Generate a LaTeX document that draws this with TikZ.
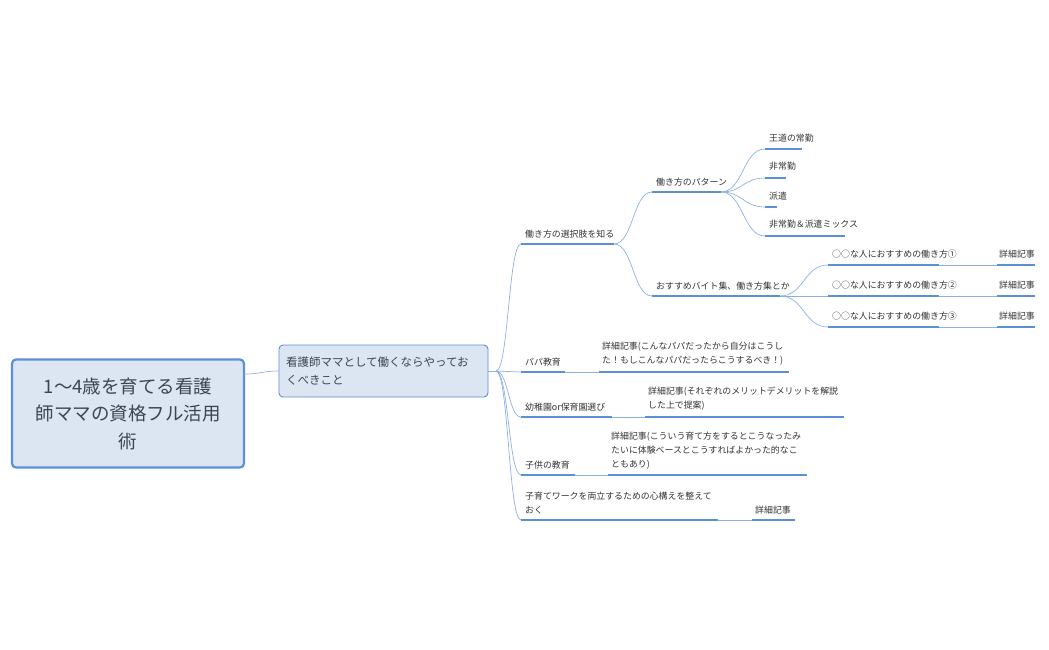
\documentclass[tikz,border=0pt]{standalone}
\usepackage{fontspec}
\setmainfont{Noto Sans CJK JP}
\usetikzlibrary{calc}
\definecolor{lineblue}{HTML}{5B8FD6}
\definecolor{conblue}{HTML}{8DB1E6}
\definecolor{boxfill}{HTML}{DCE6F2}
\definecolor{txt}{HTML}{333333}
\tikzset{
 ul/.style={draw=lineblue,line width=1.6pt},
 con/.style={draw=conblue,line width=0.7pt},
 lab/.style={anchor=south west,inner sep=0pt,text=txt,font=\fontsize{8.9}{14}\selectfont,align=left},
}
\begin{document}
\begin{tikzpicture}[x=1pt,y=-1pt]
\useasboundingbox (0,0) rectangle (1049,650);
% root
\node[draw=lineblue,line width=2.2pt,fill=boxfill,rounded corners=4pt,minimum width=232,minimum height=108,align=center,text=txt!80!lineblue,font=\fontsize{18.5}{27.5}\selectfont] (root) at (128,413.5) {1〜4歳を育てる看護\\師ママの資格フル活用\\術};
\node[draw=lineblue,line width=0.9pt,fill=boxfill,rounded corners=4pt,minimum width=209,minimum height=52,text width=195,align=left,text=txt!80!lineblue,font=\fontsize{11.5}{18}\selectfont] (c) at (383.5,371) {看護師ママとして働くならやってお\\くべきこと};
\coordinate (croot) at (244,374);
\draw[con] (croot) .. controls (262,374) and (262,371) .. (c.west);
\coordinate (hub) at (496,371);
\draw[con] (c.east) -- (hub);
% level 1 lines
\foreach \n/\y/\xe in {a/244/614, b/372/565, d/417/612, e/475/575, f/520/718}{
  \coordinate (\n s) at (521,\y); \coordinate (\n e) at (\xe,\y);
  \draw[ul] (\n s) -- (\n e);
  \draw[con] (hub) .. controls (508.5,371) and (508.5,\y) .. (\n s);
}
\node[lab] (ta) at (525,238) {働き方の選択肢を知る};
\node[lab] (tb) at (525,366) {パパ教育};
\node[lab] (td) at (525,411) {幼稚園or保育園選び};
\node[lab] (te) at (525,469) {子供の教育};
\node[lab] (tf) at (525,514) {子育てワークを両立するための心構えを整えて\\おく};
% level 2 under a
\coordinate (a1s) at (652,192); \coordinate (a1e) at (721,192);
\coordinate (a2s) at (652,296); \coordinate (a2e) at (780,296);
\draw[ul] (a1s)--(a1e); \draw[ul] (a2s)--(a2e);
\draw[con] (ae) .. controls (633,244) and (633,192) .. (a1s);
\draw[con] (ae) .. controls (633,244) and (633,296) .. (a2s);
\node[lab] (ta1) at (656,186) {働き方のパターン};
\node[lab] (ta2) at (656,290) {おすすめバイト集、働き方集とか};
% patterns
\foreach \n/\y/\xe/\t in {p1/149/802/王道の常勤, p2/178/786/非常勤, p3/207/777/派遣, p4/236/845/非常勤＆派遣ミックス}{
  \coordinate (\n s) at (765,\y); \coordinate (\n e) at (\xe,\y);
  \draw[ul] (\n s)--(\n e);
  \draw[con] (a1e) .. controls (743,192) and (743,\y) .. (\n s);
  \node[lab] (t\n) at (769,{\y-7}) {\t};
}
% recommendations
\foreach \n/\y/\t in {r1/265/○○な人におすすめの働き方①, r2/296/○○な人におすすめの働き方②, r3/327/○○な人におすすめの働き方③}{
  \coordinate (\n s) at (828,\y); \coordinate (\n e) at (939,\y);
  \coordinate (\n ds) at (997,\y); \coordinate (\n de) at (1035,\y);
  \draw[ul] (\n s)--(\n e); \draw[ul] (\n ds)--(\n de);
  \draw[con] (\n e)--(\n ds);
  \draw[con] (a2e) .. controls (804,296) and (804,\y) .. (\n s);
  \node[lab] (t\n) at (832,{\y-7}) {\t};
  \node[lab] (t\n d) at (999,{\y-7}) {詳細記事};
}
% details
\coordinate (bds) at (599,372); \coordinate (bde) at (789,372);
\draw[con] (be)--(bds); \draw[ul] (bds)--(bde);
\node[lab] (tbd) at (602,365) {詳細記事(こんなパパだったから自分はこうし\\た！もしこんなパパだったらこうするべき！)};
\coordinate (dds) at (645,417); \coordinate (dde) at (844,417);
\draw[con] (de)--(dds); \draw[ul] (dds)--(dde);
\node[lab] (tdd) at (648,410) {詳細記事(それぞれのメリットデメリットを解説\\した上で提案)};
\coordinate (eds) at (608,475); \coordinate (ede) at (807,475);
\draw[con] (ee)--(eds); \draw[ul] (eds)--(ede);
\node[lab] (ted) at (611,469) {詳細記事(こういう育て方をするとこうなったみ\\たいに体験ベースとこうすればよかった的なこ\\ともあり)};
\coordinate (fds) at (752,520); \coordinate (fde) at (795,520);
\draw[con] (fe)--(fds); \draw[ul] (fds)--(fde);
\node[lab] (tfd) at (755,514) {詳細記事};
\end{tikzpicture}
\end{document}
